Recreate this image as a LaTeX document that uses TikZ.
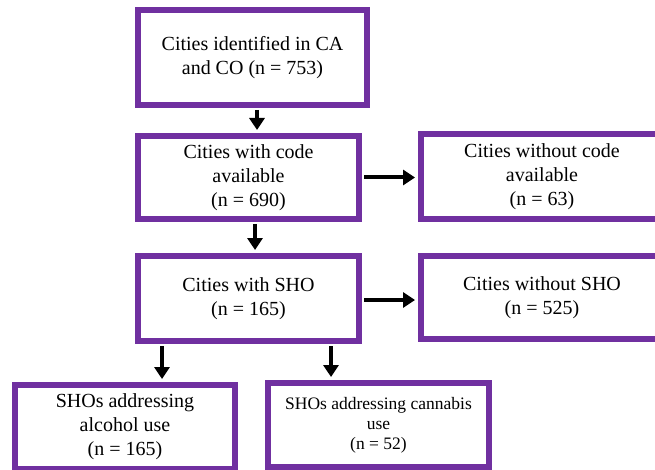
\documentclass[tikz,border=0pt]{standalone}
\usepackage{fontspec}
\setmainfont{Liberation Serif}
\usetikzlibrary{arrows.meta}
\definecolor{boxpurple}{HTML}{7030A0}
\begin{document}
\begin{tikzpicture}[x=1pt,y=-1pt,
  flowbox/.style={draw=boxpurple, line width=6pt, fill=white, rectangle,
    align=center, inner sep=0pt, font=\fontsize{20}{24}\selectfont},
  smalltext/.style={font=\fontsize{17.5}{20}\selectfont},
  arr/.style={line width=4pt, -{Triangle[width=15pt,length=12pt]}, shorten >=3pt, shorten <=2pt}
]
\useasboundingbox (0,0) rectangle (655,470);
\begin{scope}
\clip (0,0) rectangle (655,470);
\node[flowbox, minimum width=229pt, minimum height=95pt] (b1) at (252.5,57.5)
  {Cities identified in CA\\and CO (n = 753)};
\node[flowbox, minimum width=221pt, minimum height=83pt] (b2) at (248.5,177.5)
  {Cities with code\\available\\(n = 690)};
\node[flowbox, minimum width=242pt, minimum height=85pt] (b3) at (542,176.5)
  {Cities without code\\available\\(n = 63)};
\node[flowbox, minimum width=221pt, minimum height=85pt] (b4) at (248.5,298.5)
  {Cities with SHO\\(n = 165)};
\node[flowbox, minimum width=242pt, minimum height=83pt] (b5) at (542,297.5)
  {Cities without SHO\\(n = 525)};
\node[flowbox, minimum width=220pt, minimum height=84pt] (b6) at (125,427)
  {SHOs addressing\\alcohol use\\(n = 165)};
\node[flowbox, smalltext, minimum width=221pt, minimum height=84pt] (b7) at (378.5,425)
  {SHOs addressing cannabis\\use\\(n = 52)};
\end{scope}
\coordinate (x1) at (257,0);
\coordinate (x2) at (255,0);
\coordinate (x3) at (162,0);
\coordinate (x4) at (331,0);
\coordinate (y5) at (0,300);
\draw[arr] (b1.south -| x1) -- (b2.north -| x1);
\draw[arr] (b2.south -| x2) -- (b4.north -| x2);
\draw[arr] (b2.east) -- (b2.east -| b3.west);
\draw[arr] (b4.east |- y5) -- (b5.west |- y5);
\draw[arr] (b4.south -| x3) -- (b6.north -| x3);
\draw[arr] (b4.south -| x4) -- (b7.north -| x4);
\end{tikzpicture}
\end{document}
